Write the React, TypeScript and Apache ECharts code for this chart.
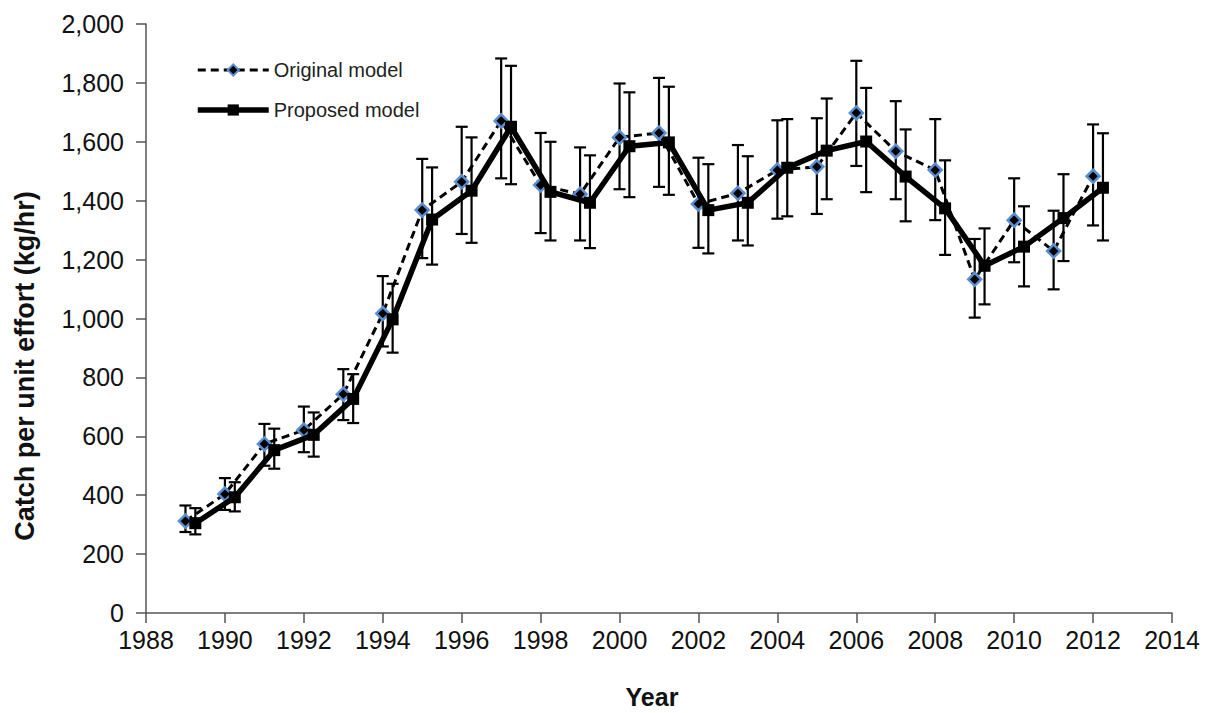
import React, { useEffect, useRef } from "react";
import * as echarts from "echarts";

const origYears = [1989, 1990, 1991, 1992, 1993, 1994, 1995, 1996, 1997, 1998, 1999, 2000, 2001, 2002, 2003, 2004, 2005, 2006, 2007, 2008, 2009, 2010, 2011, 2012];
const origValues = [312, 404, 574, 621, 743, 1017, 1368, 1464, 1671, 1453, 1422, 1615, 1630, 1389, 1425, 1504, 1515, 1698, 1568, 1504, 1133, 1334, 1229, 1483];
const origLow = [275, 350, 500, 546, 655, 905, 1205, 1287, 1476, 1290, 1265, 1439, 1447, 1240, 1265, 1339, 1355, 1518, 1405, 1334, 1003, 1191, 1099, 1316];
const origHigh = [365, 458, 642, 701, 828, 1144, 1542, 1651, 1883, 1630, 1581, 1798, 1817, 1546, 1589, 1673, 1680, 1875, 1738, 1677, 1270, 1476, 1366, 1659];

const propYears = [1989.25, 1990.25, 1991.25, 1992.25, 1993.25, 1994.25, 1995.25, 1996.25, 1997.25, 1998.25, 1999.25, 2000.25, 2001.25, 2002.25, 2003.25, 2004.25, 2005.25, 2006.25, 2007.25, 2008.25, 2009.25, 2010.25, 2011.25, 2012.25];
const propValues = [305, 393, 553, 605, 727, 997, 1336, 1434, 1651, 1430, 1393, 1585, 1598, 1368, 1393, 1512, 1570, 1601, 1482, 1374, 1179, 1244, 1341, 1444];
const propLow = [267, 345, 490, 531, 645, 884, 1183, 1257, 1456, 1265, 1239, 1412, 1420, 1221, 1248, 1347, 1405, 1429, 1330, 1216, 1048, 1109, 1195, 1265];
const propHigh = [356, 444, 626, 681, 811, 1118, 1513, 1615, 1858, 1600, 1554, 1768, 1787, 1524, 1551, 1677, 1747, 1783, 1642, 1537, 1306, 1381, 1490, 1629];

const seriesNames = ["Original model", "Proposed model"];
const yAxisTitle = "Catch per unit effort (kg/hr)";
const xAxisTitle = "Year";

function errorBarItem(params: any, api: any) {
  const x = api.value(0);
  const lo = api.value(1);
  const hi = api.value(2);
  const pHi = api.coord([x, hi]);
  const pLo = api.coord([x, lo]);
  const half = 6;
  const style = { stroke: "#000", lineWidth: 2.2 };
  return {
    type: "group",
    children: [
      { type: "line", shape: { x1: pHi[0], y1: pHi[1], x2: pLo[0], y2: pLo[1] }, style },
      { type: "line", shape: { x1: pHi[0] - half, y1: pHi[1], x2: pHi[0] + half, y2: pHi[1] }, style },
      { type: "line", shape: { x1: pLo[0] - half, y1: pLo[1], x2: pLo[0] + half, y2: pLo[1] }, style },
    ],
  };
}

export default function App() {
  const ref = useRef<HTMLDivElement>(null);
  useEffect(() => {
    if (!ref.current) return;
    const chart = echarts.init(ref.current, undefined, { renderer: "svg" });
    const font = "Liberation Sans, Arial, sans-serif";
    const origData = origYears.map((y, i) => [y, origValues[i]]);
    const propData = propYears.map((y, i) => [y, propValues[i]]);
    const origErr = origYears.map((y, i) => [y, origLow[i], origHigh[i]]);
    const propErr = propYears.map((y, i) => [y, propLow[i], propHigh[i]]);
    chart.setOption({
      animation: false,
      backgroundColor: "#fff",
      grid: { left: 146, right: 36, top: 24, bottom: 100, containLabel: false },
      legend: {
        data: [
          { name: seriesNames[0], lineStyle: { width: 3, type: [8, 5], color: "#000" } },
          { name: seriesNames[1], lineStyle: { width: 5.5, color: "#000" } },
        ],
        orient: "vertical",
        left: 190,
        top: 55,
        itemWidth: 71,
        itemHeight: 14,
        itemGap: 20,
        textStyle: { fontSize: 20, color: "#222", fontFamily: font },
      },
      xAxis: {
        type: "value",
        min: 1988,
        max: 2014,
        interval: 2,
        splitLine: { show: false },
        axisLine: { show: true, lineStyle: { color: "#555", width: 1.5 } },
        axisTick: { show: true, length: 10, inside: false, lineStyle: { color: "#555", width: 1.5 } },
        axisLabel: { fontSize: 25, color: "#111", fontFamily: font, margin: 14, formatter: (v: number) => String(v) },
      },
      yAxis: {
        type: "value",
        min: 0,
        max: 2000,
        interval: 200,
        splitLine: { show: false },
        axisLine: { show: true, lineStyle: { color: "#555", width: 1.5 } },
        axisTick: { show: true, length: 10, inside: false, lineStyle: { color: "#555", width: 1.5 } },
        axisLabel: {
          fontSize: 25,
          color: "#111",
          fontFamily: font,
          margin: 22,
          formatter: (v: number) => v.toLocaleString("en-US"),
        },
      },
      graphic: [
        {
          type: "text",
          x: 25,
          y: 366,
          rotation: Math.PI / 2,
          style: {
            text: yAxisTitle,
            font: "bold 27px Liberation Sans, Arial, sans-serif",
            fill: "#111",
            align: "center",
            verticalAlign: "middle",
          },
        },
        {
          type: "text",
          x: 652,
          y: 697,
          style: {
            text: xAxisTitle,
            font: "bold 25px Liberation Sans, Arial, sans-serif",
            fill: "#111",
            align: "center",
            verticalAlign: "middle",
          },
        },
      ],
      series: [
        {
          type: "custom",
          name: "origErr",
          renderItem: errorBarItem,
          data: origErr,
          encode: { x: 0, y: [1, 2] },
          z: 1,
          silent: true,
        },
        {
          type: "custom",
          name: "propErr",
          renderItem: errorBarItem,
          data: propErr,
          encode: { x: 0, y: [1, 2] },
          z: 1,
          silent: true,
        },
        {
          type: "line",
          name: seriesNames[0],
          data: origData,
          symbol: "diamond",
          symbolSize: 13,
          showAllSymbol: true,
          lineStyle: { color: "#000", width: 3, type: [8, 5] },
          itemStyle: { color: "#000", borderColor: "#5b8fd1", borderWidth: 2.5 },
          z: 3,
        },
        {
          type: "line",
          name: seriesNames[1],
          data: propData,
          symbol: "rect",
          symbolSize: 12,
          showAllSymbol: true,
          lineStyle: { color: "#000", width: 5.5 },
          itemStyle: { color: "#000" },
          z: 4,
        },
      ],
    });
    return () => chart.dispose();
  }, []);
  return (
    <div
      ref={ref}
      style={{ position: "fixed", left: 0, top: 0, width: 1208, height: 713, background: "#fff" }}
    />
  );
}
